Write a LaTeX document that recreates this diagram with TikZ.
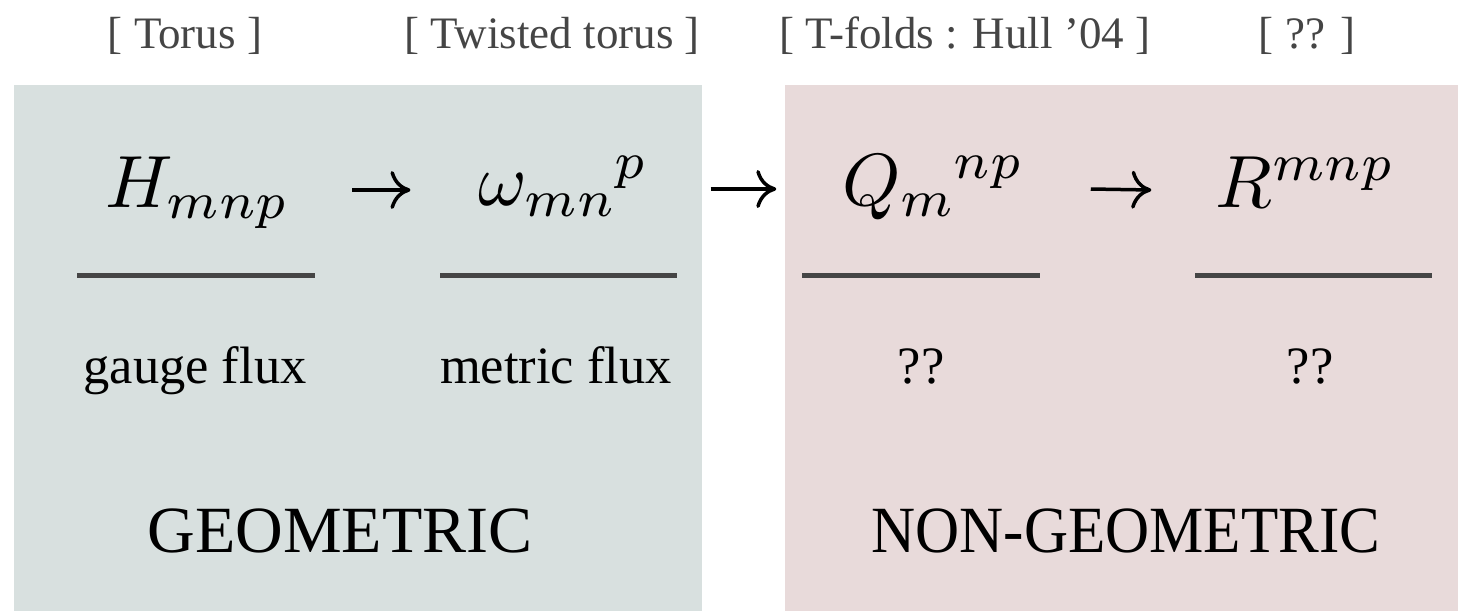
\RequirePackage{fix-cm}
\documentclass[tikz,border=0pt]{standalone}
\usepackage{fontspec}
\setmainfont{Liberation Serif}
\usetikzlibrary{arrows.meta}
\DeclareFontShape{OML}{cmm}{m}{it}{<-60> cmmi7 <60-> cmmi10}{}
\definecolor{geofill}{HTML}{D8E0DF}
\definecolor{ngfill}{HTML}{E8DADA}
\definecolor{bartext}{HTML}{454545}
\tikzset{
  hdr/.style={font=\fontsize{45}{50}\selectfont, text=bartext, inner sep=0pt, anchor=base},
  flux/.style={font=\fontsize{74}{80}\selectfont, inner sep=0pt, anchor=base},
  bar/.style={draw=bartext, line width=5pt},
  fname/.style={font=\fontsize{52.5}{58}\selectfont, inner sep=0pt, anchor=base},
  kind/.style={font=\fontsize{66}{72}\selectfont, inner sep=0pt, anchor=base},
  flow/.style={-{Computer Modern Rightarrow[length=20pt, width=38pt]}, line width=3.5pt},
}
\begin{document}
\begin{tikzpicture}[x=1pt,y=-1pt]
  \useasboundingbox (0,0) rectangle (1458,611);
  % the two regions
  \fill[geofill] (14,85) rectangle (702,611);
  \fill[ngfill] (785,85) rectangle (1458,611);
  % headings
  \node[hdr] (torus) at (185,48) {[ Torus ]};
  \node[hdr] (twisted) at (552,48) {[ Twisted torus ]};
  \node[hdr] (tfolds) at (965,48) {[ T-folds : Hull ’04 ]};
  \node[hdr] (unknown) at (1307,48) {[ ?? ]};
  % fluxes
  \node[flux] (H) at (196,207) {$H_{mnp}$};
  \node[flux] (omega) at (562,205) {$\omega_{mn}{}^{p}$};
  \node[flux] (Q) at (932,205) {$Q_{m}{}^{np}$};
  \node[flux] (R) at (1304,207) {$R^{mnp}$};
  \draw[flow] ([shift={(65,-17)}]H.base east) -- ([shift={(-68,-15)}]omega.base west);
  \draw[flow] ([shift={(65,-16)}]omega.base east) -- ([shift={(-66,-16)}]Q.base west);
  \draw[flow] ([shift={(69,-16)}]Q.base east) -- ([shift={(-64,-17)}]R.base west);
  \draw[bar] (77,275) -- (315,275);
  \draw[bar] (440,275) -- (677,275);
  \draw[bar] (802,275) -- (1040,275);
  \draw[bar] (1195,275) -- (1432,275);
  % names
  \node[fname] (gauge) at (195,383) {gauge flux};
  \node[fname] (metric) at (556,383) {metric flux};
  \node[fname] (qname) at (921,383) {??};
  \node[fname] (rname) at (1310,383) {??};
  \node[kind] (geo) at (340,552) {GEOMETRIC};
  \node[kind] (nongeo) at (1126,552) {\scalebox{0.925}[1]{NON-GEOMETRIC}};
\end{tikzpicture}
\end{document}
